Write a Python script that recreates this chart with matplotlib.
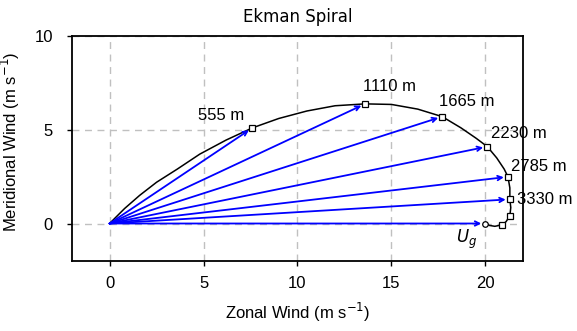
import matplotlib
matplotlib.use("Agg")
import matplotlib.pyplot as plt

plt.rcParams['font.family'] = ['Liberation Sans', 'DejaVu Sans']

# Data
heights = ["555 m", "1110 m", "1665 m", "2230 m", "2785 m", "3330 m"]
u_pts = [7.6, 13.6, 17.7, 20.1, 21.2, 21.3]
v_pts = [5.1, 6.38, 5.7, 4.1, 2.49, 1.29]
u_extra = [21.3, 20.9]
v_extra = [0.41, -0.07]
ug_u, ug_v = 20.0, 0.0

curve_u = [0, 0.8, 1.6, 2.5, 3.6, 4.8, 6.2, 7.6, 9.0, 10.5, 12.0, 13.6, 15.0,
           16.4, 17.7, 18.7, 19.5, 20.1, 20.6, 21.0, 21.2, 21.3, 21.3, 21.35,
           21.3, 21.1, 20.9, 20.5, 20.2, 20.05]
curve_v = [0, 0.8, 1.5, 2.2, 2.9, 3.7, 4.45, 5.1, 5.6, 6.0, 6.28, 6.38, 6.35,
           6.1, 5.7, 5.1, 4.55, 4.1, 3.5, 2.9, 2.49, 1.9, 1.29, 0.85, 0.41,
           0.1, -0.07, -0.15, -0.1, 0.0]

label_x = [4.72, 13.46, 17.55, 20.32, 21.38, 21.7]
label_y = [5.75, 7.3, 6.5, 4.79, 3.05, 1.28]

xticks = [0, 5, 10, 15, 20]
yticks = [0, 5, 10]

FS = 12

fig = plt.figure(figsize=(5.77, 3.31), dpi=100)
ax = fig.add_axes([72/577, 1-261/331, (523-72)/577, (261-36)/331])
ax.set_xlim(-2, 22)
ax.set_ylim(-2, 10)

for x in xticks:
    ax.axvline(x, color='#c0c0c0', lw=1, ls=(0, (5, 4)), zorder=0)
for y in yticks:
    ax.axhline(y, color='#c0c0c0', lw=1, ls=(0, (5, 4)), zorder=0)

ax.plot(curve_u, curve_v, color='black', lw=1.1, zorder=2)

arrow_props = dict(arrowstyle='->', color='#0000ff', lw=1.3, shrinkA=0, shrinkB=3,
                   mutation_scale=8)
for u, v in zip(u_pts + [ug_u], v_pts + [ug_v]):
    ax.annotate('', xy=(u, v), xytext=(0, 0), arrowprops=arrow_props, zorder=3)

ax.plot(u_pts + u_extra, v_pts + v_extra, ls='none', marker='s', ms=4,
        mfc='white', mec='black', mew=0.9, zorder=4)
ax.plot([ug_u], [ug_v], ls='none', marker='o', ms=4, mfc='white', mec='black',
        mew=0.9, zorder=4)

for t, x, y in zip(heights, label_x, label_y):
    ax.text(x, y, t, ha='left', va='center', fontsize=FS, clip_on=False)
ax.text(19.0, -0.85, r'$U_g$', fontsize=12, ha='center', va='center')

ax.set_xticks(xticks)
ax.set_yticks(yticks)
ax.tick_params(direction='out', length=3.6, width=1, labelsize=FS)
ax.tick_params(axis='x', pad=7)
ax.tick_params(axis='y', pad=10)
for s in ax.spines.values():
    s.set_linewidth(1.3)

ax.set_title('Ekman Spiral', fontsize=FS, pad=10, family=['DejaVu Sans'])
ax.set_xlabel('Zonal Wind (m s$^{-1}$)', fontsize=FS, labelpad=7)
ax.set_ylabel('Meridional Wind (m s$^{-1}$)', fontsize=FS)
ax.yaxis.set_label_coords(-0.111, 0.53)

fig.savefig('out.png', dpi=100)
